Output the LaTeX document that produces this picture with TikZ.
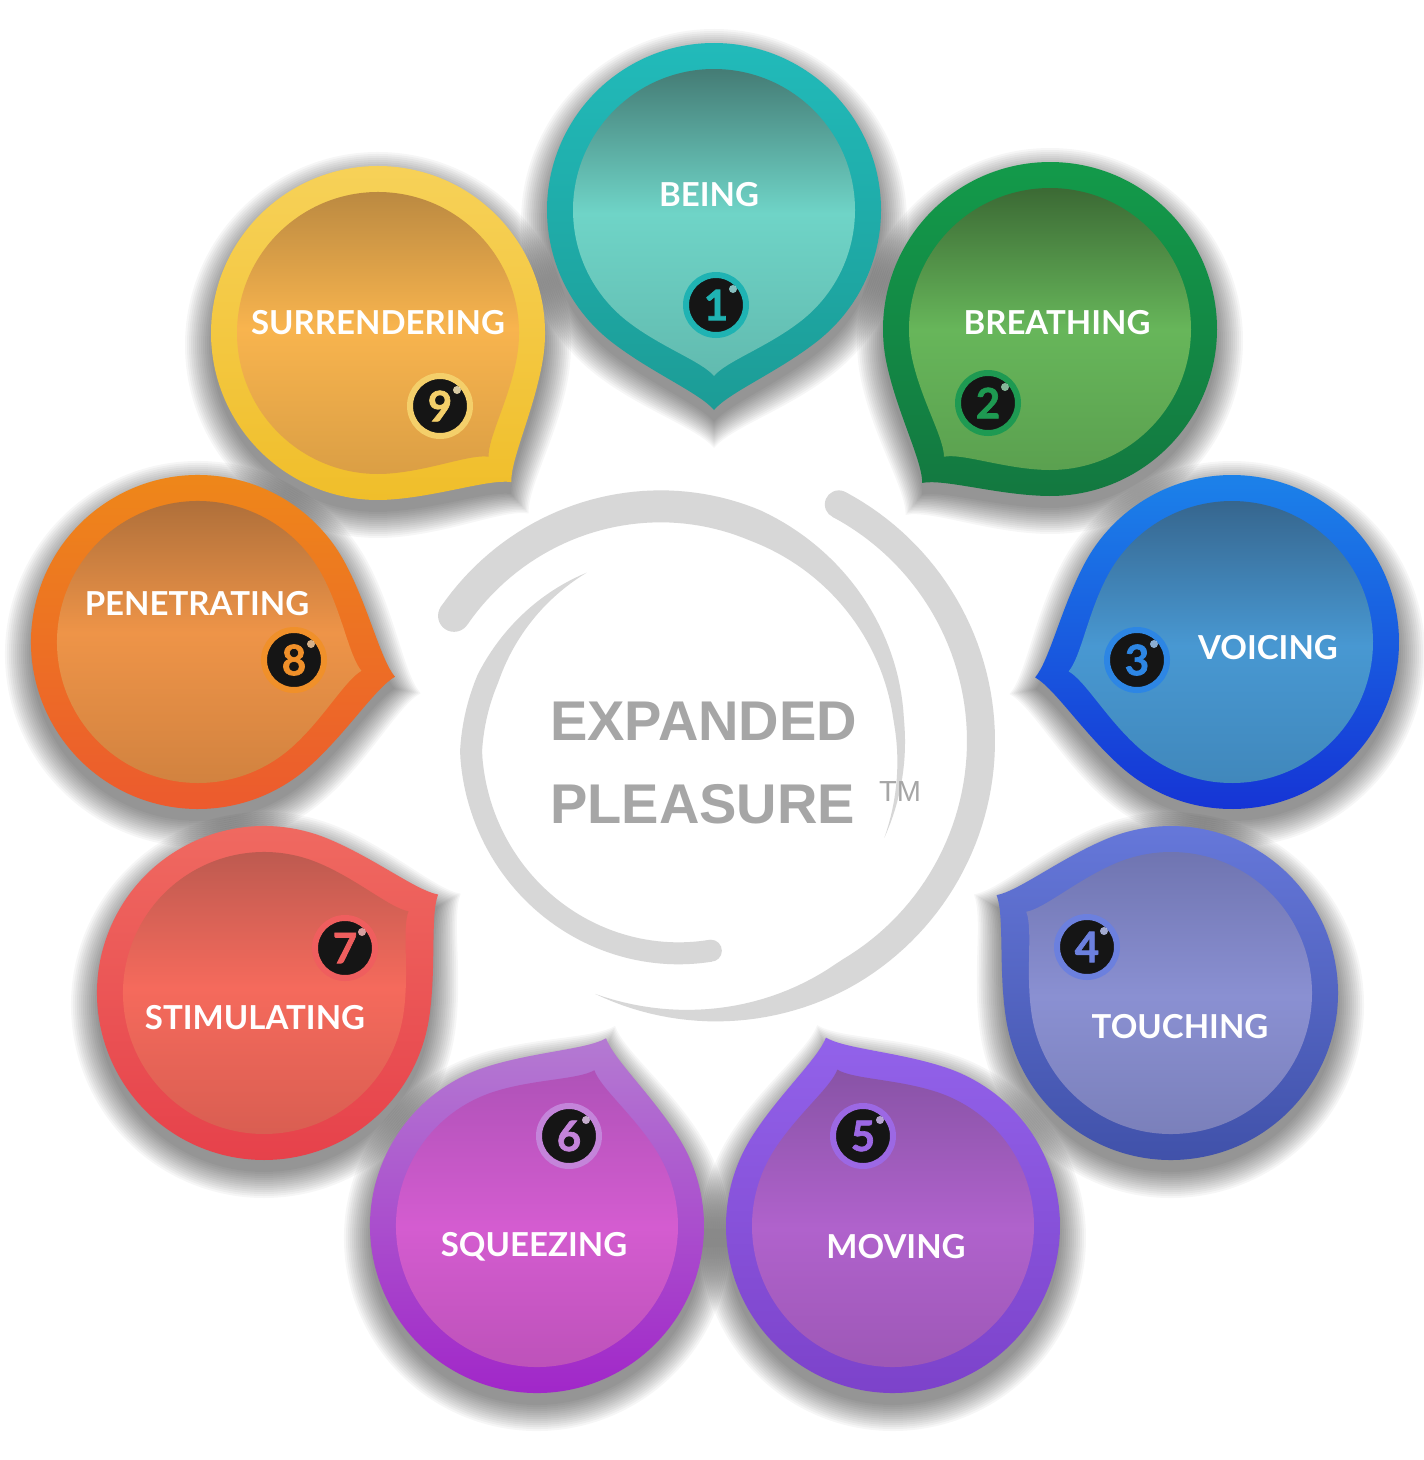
\documentclass[tikz,border=0pt]{standalone}
\usepackage{fontspec}
\setmainfont{Lato}
\newfontfamily\arialf{Liberation Sans}
\newfontfamily\numf{Lato}[BoldFeatures={FakeBold=1.6}]

\definecolor{ra1}{HTML}{22BCBC}\definecolor{rb1}{HTML}{1C9C96}\definecolor{ia1}{HTML}{3F716B}\definecolor{ib1}{HTML}{6FD4C7}\definecolor{nc1}{HTML}{1FB3B3}
\definecolor{ra2}{HTML}{139A4A}\definecolor{rb2}{HTML}{137840}\definecolor{ia2}{HTML}{3B6934}\definecolor{ib2}{HTML}{67B65A}\definecolor{nc2}{HTML}{1E9A52}
\definecolor{ra3}{HTML}{1C84EA}\definecolor{rb3}{HTML}{1530D4}\definecolor{ia3}{HTML}{35638A}\definecolor{ib3}{HTML}{4898D2}\definecolor{nc3}{HTML}{2D86E4}
\definecolor{ra4}{HTML}{6678DA}\definecolor{rb4}{HTML}{3F50A8}\definecolor{ia4}{HTML}{6F74B0}\definecolor{ib4}{HTML}{8A90D2}\definecolor{nc4}{HTML}{6C80DE}
\definecolor{ra5}{HTML}{9262EA}\definecolor{rb5}{HTML}{7B40C8}\definecolor{ia5}{HTML}{8853A6}\definecolor{ib5}{HTML}{B062CC}\definecolor{nc5}{HTML}{9C68E4}
\definecolor{ra6}{HTML}{B47AD2}\definecolor{rb6}{HTML}{A022C8}\definecolor{ia6}{HTML}{AF52B8}\definecolor{ib6}{HTML}{D45CD0}\definecolor{nc6}{HTML}{C484DA}
\definecolor{ra7}{HTML}{F06C62}\definecolor{rb7}{HTML}{E6404A}\definecolor{ia7}{HTML}{B6584E}\definecolor{ib7}{HTML}{F56A5C}\definecolor{nc7}{HTML}{EF5E5E}
\definecolor{ra8}{HTML}{EE8A18}\definecolor{rb8}{HTML}{EC5A2E}\definecolor{ia8}{HTML}{A66A38}\definecolor{ib8}{HTML}{EE9448}\definecolor{nc8}{HTML}{F0902A}
\definecolor{ra9}{HTML}{F7D25A}\definecolor{rb9}{HTML}{F0BE2A}\definecolor{ia9}{HTML}{B68640}\definecolor{ib9}{HTML}{F8B44E}\definecolor{nc9}{HTML}{F4CF6A}
\definecolor{swirlgray}{HTML}{D7D7D7}
\definecolor{gtext}{HTML}{A6A6A6}
\definecolor{badgedark}{HTML}{151515}

% #1 tip angle, #2 radius, #3 tip distance
\newcommand\bubpath[3]{({#1}:{#3}) .. controls ({#1+4.5}:{(#3)-0.10*(#2)}) and ({#1+21.3}:{1.044*(#2)}) .. ({#1+38}:{#2}) arc[start angle={#1+38}, delta angle=284, radius={#2}] .. controls ({#1-21.3}:{1.044*(#2)}) and ({#1-4.5}:{(#3)-0.10*(#2)}) .. ({#1}:{#3}) -- cycle}

\newcommand\bubshadow[3]{%
  \begin{scope}[shift={(#1,#2)}, yshift=-12pt, y=1pt]
    \foreach \k in {0,...,13} {\fill[black, opacity=0.035] \bubpath{#3}{167+2*\k}{200+2*\k};}
  \end{scope}}

% #1 id, #2 cx, #3 cy, #4 tip angle, #5 label, #6 #7 label pos, #8 #9 badge pos
\newcommand\bubble[9]{%
  \begin{scope}[shift={(#2,#3)}, y=1pt]
    \shade[top color=ra#1, bottom color=rb#1] \bubpath{#4}{167}{200};
    \shade[top color=ia#1, bottom color=ib#1!88!black, middle color=ib#1] \bubpath{#4}{141}{166};
  \end{scope}
  \node[lbl] (t#1) at (#6,#7) {#5};
  \node[badge=nc#1] (b#1) at (#8,#9) {#1};
  \fill[nc#1!45!white, opacity=.85] ([shift={(17,-16)}]b#1.center) circle (4);
}

\begin{document}
\begin{tikzpicture}[x=1pt, y=-1pt,
  lbl/.style={text=white, font=\bfseries\fontsize{33}{33}\selectfont, inner sep=0pt},
  badge/.style={circle, minimum size=60pt, inner sep=0pt, fill=badgedark, draw=#1, line width=6pt, text=#1, font=\numf\bfseries\fontsize{42}{42}\selectfont},
  swirl/.style={fill=swirlgray},
  declare function={
    rA(\t)=max(229,257-0.2*(\t+148));
    wA(\t)=min(32,32*(22-\t)/92);
    rB(\t)=268+0.2*max(0,\t-60);
    wB(\t)=min(28,28*(115-\t)/55);
    rC(\t)=219-0.2*abs(\t-180);
    wC(\t)=min(22,22*(240-\t)/40);
  }]
\useasboundingbox (0,0) rectangle (1424,1460);
\fill[white] (0,0) rectangle (1424,1460);

% ---------- central swirl ----------
\fill[swirl] plot[domain=-148:22, samples=90, variable=\t] ({672+(rA(\t)+wA(\t)/2)*cos(\t)}, {752+(rA(\t)+wA(\t)/2)*sin(\t)})
  -- plot[domain=22:-148, samples=90, variable=\t] ({672+(rA(\t)-wA(\t)/2)*cos(\t)}, {752+(rA(\t)-wA(\t)/2)*sin(\t)}) -- cycle;
\fill[swirl] ({672+257*cos(-148)}, {752+257*sin(-148)}) circle (16);

\fill[swirl] plot[domain=-62:115, samples=90, variable=\t] ({713+(rB(\t)+wB(\t)/2)*cos(\t)}, {741+(rB(\t)+wB(\t)/2)*sin(\t)})
  -- plot[domain=115:-62, samples=90, variable=\t] ({713+(rB(\t)-wB(\t)/2)*cos(\t)}, {741+(rB(\t)-wB(\t)/2)*sin(\t)}) -- cycle;
\fill[swirl] ({713+268*cos(-62)}, {741+268*sin(-62)}) circle (14);

\fill[swirl] plot[domain=240:84, samples=90, variable=\t] ({690+(rC(\t)+wC(\t)/2)*cos(\t)}, {752+(rC(\t)+wC(\t)/2)*sin(\t)})
  -- plot[domain=84:240, samples=90, variable=\t] ({690+(rC(\t)-wC(\t)/2)*cos(\t)}, {752+(rC(\t)-wC(\t)/2)*sin(\t)}) -- cycle;
\fill[swirl] ({690+199.8*cos(84)}, {752+199.8*sin(84)}) circle (11);

\node[anchor=base west, inner sep=0pt, text=gtext, font=\arialf\bfseries\fontsize{56}{56}\selectfont] (ex) at (550,740) {EXPANDED};
\node[anchor=base west, inner sep=0pt, text=gtext, font=\arialf\bfseries\fontsize{56}{56}\selectfont] (pl) at (550,823) {PLEASURE};
\node[anchor=base west, inner sep=0pt, text=gtext, font=\arialf\fontsize{29}{29}\selectfont] (tm) at (879,801) {TM};

% ---------- shadows ----------
\bubshadow{714}{210}{-90}
\bubshadow{1050}{329}{230.3}
\bubshadow{1232}{642}{190.2}
\bubshadow{1171}{993}{150.7}
\bubshadow{893}{1226}{109.6}
\bubshadow{537}{1226}{69.8}
\bubshadow{264}{993}{29.5}
\bubshadow{198}{642}{-10}
\bubshadow{378}{333}{-48.2}

% ---------- bubbles ----------
\bubble{1}{714}{210}{-90}{BEING}{709}{195}{716}{305}
\bubble{2}{1050}{329}{230.3}{BREATHING}{1057}{323}{988}{403}
\bubble{3}{1232}{642}{190.2}{VOICING}{1268}{648}{1137}{660}
\bubble{4}{1171}{993}{150.7}{TOUCHING}{1180}{1027}{1087}{947}
\bubble{5}{893}{1226}{109.6}{MOVING}{896}{1247}{863}{1136}
\bubble{6}{537}{1226}{69.8}{SQUEEZING}{534}{1247}{569}{1136}
\bubble{7}{264}{993}{29.5}{STIMULATING}{255}{1018}{345}{948}
\bubble{8}{198}{642}{-10}{PENETRATING}{197}{604}{294}{660}
\bubble{9}{378}{333}{-48.2}{SURRENDERING}{378}{323}{440}{406}
\end{tikzpicture}
\end{document}
